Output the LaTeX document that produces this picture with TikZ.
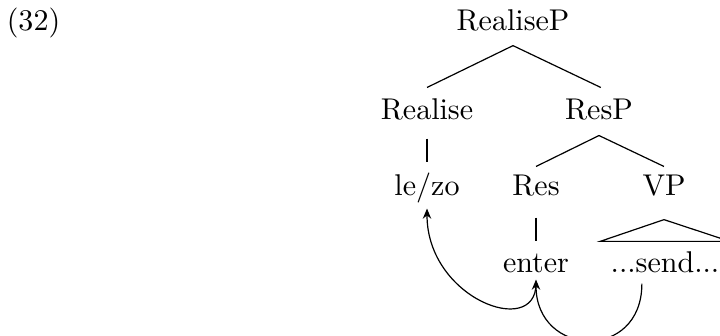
\documentclass[tikz,border=0pt]{standalone}
\usetikzlibrary{arrows.meta}

\begin{document}
\begin{tikzpicture}[x=0.333pt,y=0.333pt,yscale=-1,xscale=1,
    lbl/.style={anchor=base,inner sep=0pt,text height=7pt,text depth=0pt},
    trace/.style={-{Stealth[length=3.4pt,width=2.8pt]}}]
    \useasboundingbox (0,0) rectangle (720,335);

    % Text Node
    \draw (33.5,30) node (num) [lbl] {(32)};
    % Text Node
    \draw (513,30) node (realisep) [lbl] {RealiseP};
    % Text Node
    \draw (427,119) node (realise) [lbl] {Realise};
    % Text Node
    \draw (599,119) node (resp) [lbl] {ResP};
    % Text Node
    \draw (427,195) node (lezo) [lbl] {le/zo};
    % Text Node
    \draw (536,195) node (res) [lbl] {Res};
    % Text Node
    \draw (664,195) node (vp) [lbl] {VP};
    % Text Node
    \draw (536,272) node (enter) [lbl] {enter};
    % Text Node
    \draw (665,272) node (send) [lbl] {...send...};

    % Branches
    \draw ([yshift=5pt]realisep.south) -- ([yshift=-3.3pt]realise.north);
    \draw ([yshift=5pt]realisep.south) -- ([xshift=0.6pt,yshift=-3.3pt]resp.north);
    \draw ([yshift=6.3pt]realise.south) -- ([yshift=-3.7pt]lezo.north);
    \draw ([yshift=5.3pt]resp.south) -- ([yshift=-2.3pt]res.north);
    \draw ([yshift=5.3pt]resp.south) -- ([yshift=-2.3pt]vp.north);
    \draw ([yshift=7.3pt]res.south) -- ([yshift=-3pt]enter.north);
    %Shape: Triangle
    \draw ([yshift=8pt]vp.south) -- ([xshift=-21.6pt,yshift=-3pt]send.north) -- ([xshift=21.6pt,yshift=-3pt]send.north) -- cycle;

    % Movement arrows
    \draw [trace] ([xshift=-7.7pt,yshift=3.7pt]send.south) .. controls +(0,78) and +(0,78) .. ([yshift=2.3pt]enter.south);
    \draw [trace] ([yshift=3.7pt]enter.south) .. controls +(0,55) and +(0,90) .. ([yshift=4.3pt]lezo.south);
\end{tikzpicture}
\end{document}
